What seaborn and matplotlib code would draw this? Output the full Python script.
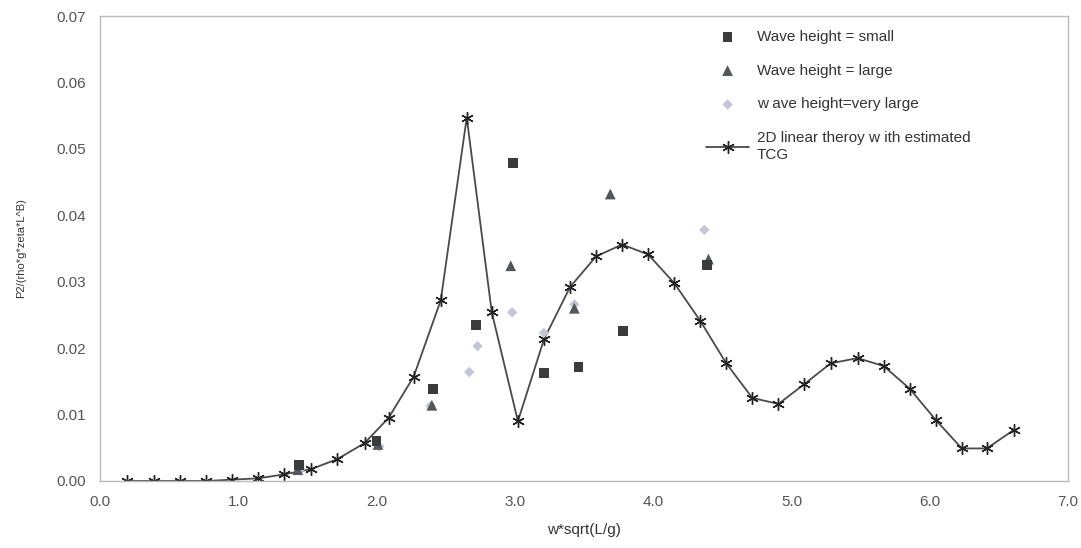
import matplotlib
matplotlib.use("Agg")
import matplotlib.pyplot as plt
import seaborn as sns
import numpy as np
import pandas as pd

# ---- data ----
theory_x = [0.196, 0.391, 0.580, 0.768, 0.957, 1.145, 1.333, 1.529, 1.717, 1.913,
            2.087, 2.268, 2.464, 2.652, 2.833, 3.022, 3.210, 3.399, 3.587, 3.775,
            3.964, 4.152, 4.341, 4.529, 4.717, 4.906, 5.094, 5.283, 5.478, 5.667,
            5.855, 6.043, 6.232, 6.413, 6.609]
theory_y = [0.0000, 0.0000, 0.0000, 0.0000, 0.0002, 0.0004, 0.0010, 0.0018, 0.0033, 0.0057,
            0.0095, 0.0157, 0.0272, 0.0547, 0.0254, 0.0090, 0.0213, 0.0292, 0.0338, 0.0356,
            0.0341, 0.0298, 0.0241, 0.0177, 0.0125, 0.0116, 0.0146, 0.0177, 0.0185, 0.0173,
            0.0139, 0.0092, 0.0049, 0.0049, 0.0077]

small_x = [1.44, 2.00, 2.41, 2.72, 2.985, 3.21, 3.46, 3.78, 4.39]
small_y = [0.0024, 0.0060, 0.0138, 0.0235, 0.0479, 0.0163, 0.0172, 0.0226, 0.0325]

large_x = [1.43, 2.01, 2.40, 2.97, 3.43, 3.69, 4.40]
large_y = [0.0017, 0.0055, 0.0114, 0.0324, 0.0260, 0.0432, 0.0334]

vlarge_x = [1.45, 2.02, 2.39, 2.67, 2.73, 2.98, 3.21, 3.43, 4.37]
vlarge_y = [0.0018, 0.0052, 0.0113, 0.0164, 0.0203, 0.0254, 0.0223, 0.0266, 0.0378]

x_ticks = [0.0, 1.0, 2.0, 3.0, 4.0, 5.0, 6.0, 7.0]
y_ticks = [0.00, 0.01, 0.02, 0.03, 0.04, 0.05, 0.06, 0.07]

labels = ["Wave height = small", "Wave height = large",
          "w ave height=very large", "2D linear theroy w ith estimated\nTCG"]

# ---- plot ----
sns.set_theme(style="white")
plt.rcParams['font.family'] = ['Liberation Sans', 'DejaVu Sans']

fig = plt.figure(figsize=(10.81, 5.48), dpi=100)
ax = fig.add_axes([0.0925, 0.1223, 0.8955, 0.8485])

df_t = pd.DataFrame({"x": theory_x, "y": theory_y})
sns.lineplot(data=df_t, x="x", y="y", ax=ax, color="#4a4a4a", linewidth=1.3,
             marker=(6, 2, 0), markersize=9, markeredgecolor="#222222",
             markeredgewidth=1.0, label=labels[3], zorder=2, sort=False)

sns.scatterplot(x=vlarge_x, y=vlarge_y, ax=ax, marker="D", s=28, color="#c3c6d6",
                edgecolor="none", label=labels[2], zorder=3)
sns.scatterplot(x=large_x, y=large_y, ax=ax, marker="^", s=60, color="#53575c",
                edgecolor="none", label=labels[1], zorder=4)
sns.scatterplot(x=small_x, y=small_y, ax=ax, marker="s", s=50, color="#3a3c3c",
                edgecolor="none", label=labels[0], zorder=5)

ax.set_xlim(0, 7)
ax.set_ylim(0, 0.07)
ax.set_xticks(x_ticks)
ax.set_xticklabels([f"{v:.1f}" for v in x_ticks])
ax.set_yticks(y_ticks)
ax.set_yticklabels([f"{v:.2f}" for v in y_ticks])
ax.tick_params(axis="both", length=0, labelsize=11, colors="#555555", pad=10)

ax.set_xlabel("w*sqrt(L/g)", fontsize=11, color="#333333", labelpad=10)
ax.set_ylabel("P2/(rho*g*zeta*L^B)", fontsize=8, color="#333333", labelpad=22)

for s in ax.spines.values():
    s.set_color("#bbbbbb")
    s.set_linewidth(1.0)

handles, labs = ax.get_legend_handles_labels()
order = [labels.index(l) for l in labs]
hl = sorted(zip(order, handles, labs))
leg = ax.legend([h for _, h, _ in hl], [l for _, _, l in hl],
                loc="upper left", bbox_to_anchor=(0.612, 1.0),
                frameon=False, fontsize=11, labelspacing=1.3,
                handlelength=2.8, handletextpad=0.5, labelcolor="#333333")

fig.savefig("out.png", dpi=100)
